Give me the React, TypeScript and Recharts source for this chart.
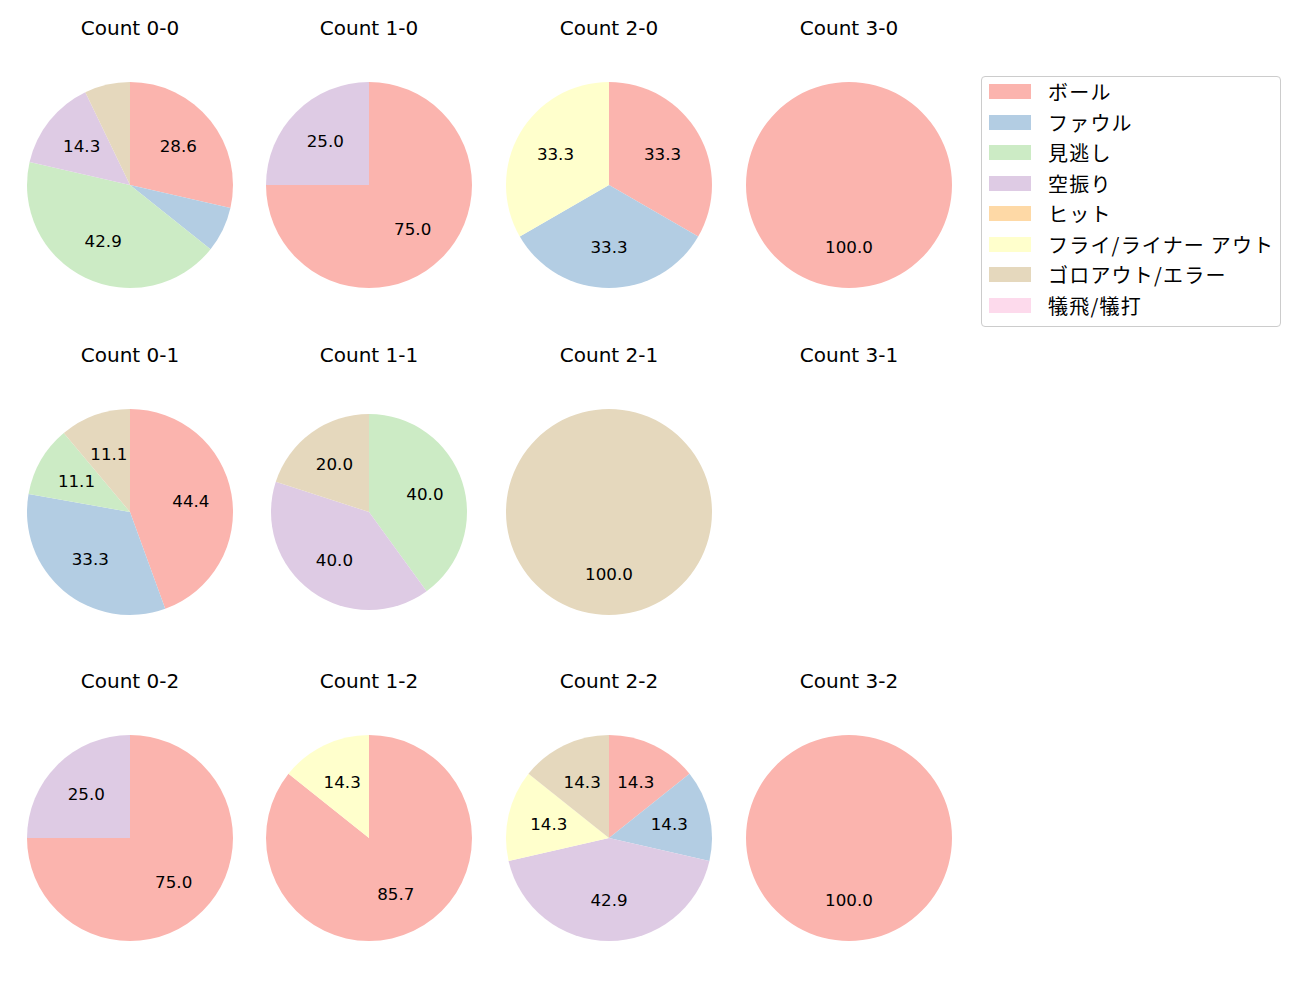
import { PieChart, Pie, Cell } from 'recharts'

const categories = ['ボール', 'ファウル', '見逃し', '空振り', 'ヒット', 'フライ/ライナー アウト', 'ゴロアウト/エラー', '犠飛/犠打']
const colors = ['#fbb4ae', '#b3cde3', '#ccebc5', '#decbe4', '#fed9a6', '#ffffcc', '#e5d8bd', '#fddaec']

// counts per category, in category order
const count00 = [4, 1, 6, 2, 0, 0, 1, 0]
const count10 = [3, 0, 0, 1, 0, 0, 0, 0]
const count20 = [1, 1, 0, 0, 0, 1, 0, 0]
const count30 = [1, 0, 0, 0, 0, 0, 0, 0]
const count01 = [4, 3, 1, 0, 0, 0, 1, 0]
const count11 = [0, 0, 2, 2, 0, 0, 1, 0]
const count21 = [0, 0, 0, 0, 0, 0, 1, 0]
const count31 = [0, 0, 0, 0, 0, 0, 0, 0]
const count02 = [3, 0, 0, 1, 0, 0, 0, 0]
const count12 = [6, 0, 0, 0, 0, 1, 0, 0]
const count22 = [1, 1, 0, 3, 0, 1, 1, 0]
const count32 = [1, 0, 0, 0, 0, 0, 0, 0]

const titles = [
  ['Count 0-0', 'Count 1-0', 'Count 2-0', 'Count 3-0'],
  ['Count 0-1', 'Count 1-1', 'Count 2-1', 'Count 3-1'],
  ['Count 0-2', 'Count 1-2', 'Count 2-2', 'Count 3-2'],
]
const counts = [
  [count00, count10, count20, count30],
  [count01, count11, count21, count31],
  [count02, count12, count22, count32],
]

const colX = [130, 369, 609, 849]
const rowY = [185, 512, 838]
const radii = [
  [103, 103, 103, 103],
  [103, 98, 103, 103],
  [103, 103, 103, 103],
]

const RADIAN = Math.PI / 180
const LABEL_FONT = '"DejaVu Sans", sans-serif'
const JP_FONT = '"Noto Sans CJK JP", "DejaVu Sans", sans-serif'

function toRows(c: number[]) {
  return c
    .map((v, i) => ({ name: categories[i], value: v, color: colors[i] }))
    .filter((d) => d.value > 0)
}

function renderLabel(props: any) {
  const { cx, cy, midAngle, outerRadius, percent } = props
  if (percent < 0.1) return null
  const r = outerRadius * 0.6
  const x = cx + r * Math.cos(-midAngle * RADIAN)
  const y = cy + r * Math.sin(-midAngle * RADIAN)
  return (
    <text
      x={x}
      y={y}
      fill="#000"
      textAnchor="middle"
      dominantBaseline="central"
      fontSize={16.7}
      fontFamily={LABEL_FONT}
    >
      {(percent * 100).toFixed(1)}
    </text>
  )
}

export default function App() {
  return (
    <div style={{ position: 'absolute', left: 0, top: 0, width: 1300, height: 1000, background: '#fff' }}>
      <PieChart
        width={1300}
        height={1000}
        margin={{ top: 0, right: 0, bottom: 0, left: 0 }}
        style={{ position: 'absolute', left: 0, top: 0 }}
      >
        {counts.flatMap((row, ri) =>
          row.map((c, ci) => {
            const data = toRows(c)
            if (!data.length) return null
            return (
              <Pie
                key={`${ri}-${ci}`}
                data={data}
                dataKey="value"
                nameKey="name"
                cx={colX[ci]}
                cy={rowY[ri]}
                outerRadius={radii[ri][ci]}
                innerRadius={0}
                startAngle={90}
                endAngle={-270}
                stroke="none"
                labelLine={false}
                label={renderLabel}
                isAnimationActive={false}
              >
                {data.map((d) => (
                  <Cell key={d.name} fill={d.color} stroke="none" />
                ))}
              </Pie>
            )
          })
        )}
      </PieChart>

      {titles.flatMap((row, ri) =>
        row.map((t, ci) => (
          <div
            key={t}
            style={{
              position: 'absolute',
              left: colX[ci],
              top: rowY[ri] - 157,
              transform: 'translate(-50%, -50%)',
              fontFamily: LABEL_FONT,
              fontSize: 20,
              lineHeight: 1,
              whiteSpace: 'nowrap',
              color: '#000',
            }}
          >
            {t}
          </div>
        ))
      )}

      <div
        style={{
          position: 'absolute',
          left: 981,
          top: 76,
          width: 298,
          height: 249,
          border: '1px solid #cccccc',
          borderRadius: 4,
          background: '#fff',
        }}
      >
        {categories.map((name, i) => (
          <div
            key={name}
            style={{ position: 'absolute', left: 0, top: i * 30.5 - 1, height: 32, width: 298 }}
          >
            <div
              style={{
                position: 'absolute',
                left: 7,
                top: 8,
                width: 42,
                height: 15,
                background: colors[i],
              }}
            />
            <div
              style={{
                position: 'absolute',
                left: 66,
                top: 0,
                height: 31,
                lineHeight: '31px',
                fontFamily: JP_FONT,
                fontSize: 20,
                letterSpacing: 1.2,
                whiteSpace: 'nowrap',
                color: '#000',
              }}
            >
              {name}
            </div>
          </div>
        ))}
      </div>
    </div>
  )
}
